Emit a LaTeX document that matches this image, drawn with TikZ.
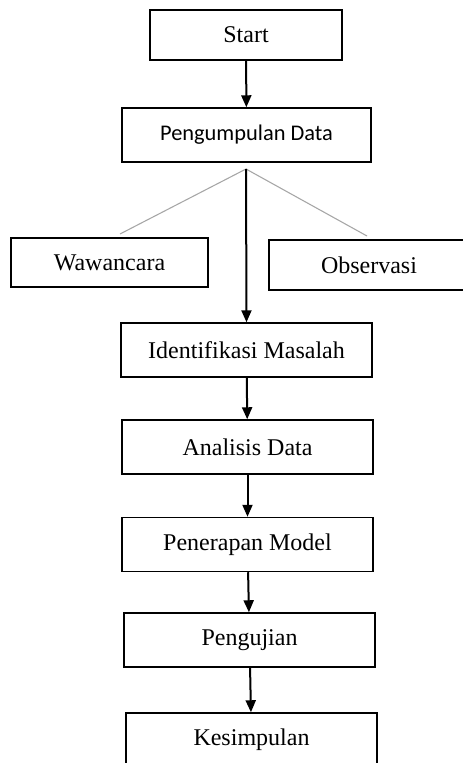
\documentclass[tikz,border=0pt]{standalone}
\usepackage{fontspec}
\setmainfont{Liberation Serif}
\newfontfamily\calfont{Carlito}
\usetikzlibrary{arrows.meta}

\begin{document}
\begin{tikzpicture}[
  x=0.75pt, y=-0.75pt,
  box/.style={draw, line width=1.1pt, inner sep=0pt, minimum width=188.25pt, minimum height=40.5pt,
    align=center, font=\fontsize{18}{21}\selectfont},
  arr/.style={line width=1.5pt, -{Triangle[width=7.5pt, length=9pt]}},
  branch/.style={draw=gray!70, line width=0.8pt}
]
\clip (0,0) rectangle (463,763);
\fill[white] (0,0) rectangle (463,763);

% top part
\node[box, minimum width=144pt, minimum height=37.5pt] (start) at (246,35) {Start};
\node[box, minimum width=186.75pt, font=\calfont\fontsize{16.8}{20}\selectfont] (kumpul) at (246.5,135) {Pengumpulan Data};
\node[box, minimum width=147.75pt, minimum height=36.75pt] (waw) at (109.5,262.5) {Wawancara};
\node[box, minimum width=150pt, minimum height=37.5pt] (obs) at (369,265) {Observasi};

\coordinate (fork) at (246,169);
\coordinate (wtop) at (120,234);
\coordinate (otop) at (367,236);

% main chain
\foreach \nm/\x/\y/\txt in {ident/246.5/350/Identifikasi Masalah,anal/247.5/447/Analisis Data,pener/247.5/544.5/Penerapan Model,uji/249.5/640/Pengujian,kesim/251.5/740/Kesimpulan} {
  \node[box] (\nm) at (\x,\y) {\txt};
}

\draw[arr] (start) -- (kumpul);
\draw[branch] (wtop) -- (fork) -- (otop);
\draw[arr] (fork) -- (ident.north);
\foreach \a/\b in {ident/anal,anal/pener,pener/uji,uji/kesim}
  \draw[arr] (\a) -- (\b);
\end{tikzpicture}
\end{document}
